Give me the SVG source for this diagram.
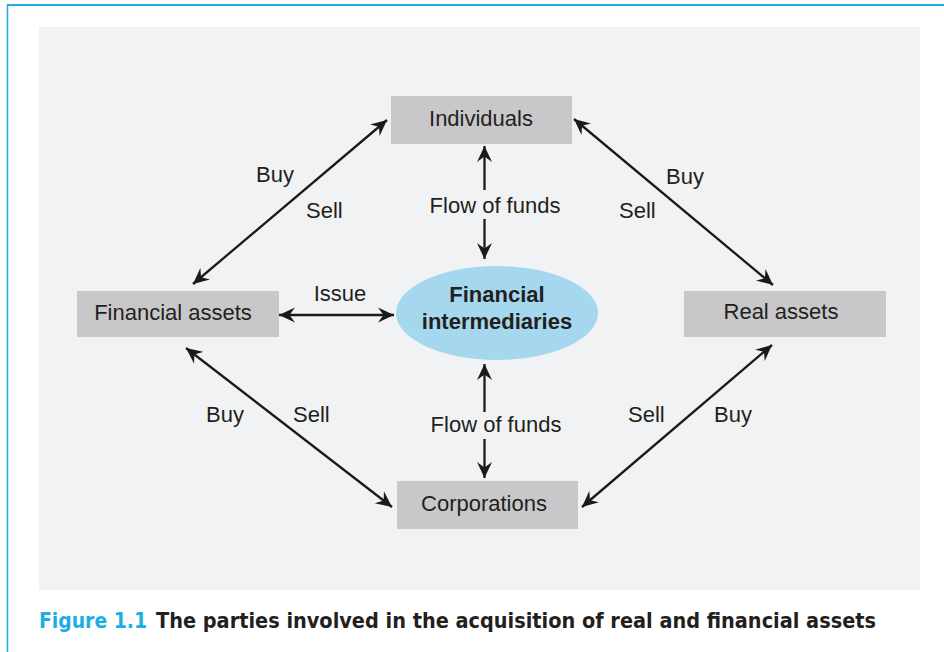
<svg xmlns="http://www.w3.org/2000/svg" width="944" height="652" viewBox="0 0 944 652">
<style>
.box{fill:#c8c8ca}
.lbl{font-family:"Liberation Sans",Arial,sans-serif;font-size:22px;fill:#231f20}
.mid{text-anchor:middle}
.conn line{stroke:#1a1a1a;stroke-width:2.3;marker-end:url(#ah)}
.conn line.two{marker-start:url(#ah)}
.cap{font-family:"DejaVu Sans",sans-serif;font-weight:bold;font-size:22px;font-stretch:condensed}
</style>
<defs>
<marker id="ah" markerUnits="userSpaceOnUse" viewBox="-16 -8 18 16" refX="0" refY="0" markerWidth="18" markerHeight="16" orient="auto-start-reverse">
<path d="M0,0 L-16,-7.5 L-10.5,0 L-16,7.5 Z" fill="#1a1a1a"/>
</marker>
</defs>
<rect width="944" height="652" fill="#ffffff"/>
<line x1="7" y1="5" x2="944" y2="5" stroke="#1aaee3" stroke-width="1.8"/>
<line x1="7.5" y1="4.5" x2="7.5" y2="652" stroke="#1aaee3" stroke-width="1.5"/>
<rect x="39" y="27" width="881" height="563" fill="#f1f2f4"/>

<g class="conn">
<line class="two" x1="193" y1="284" x2="387" y2="120"/>
<line class="two" x1="574" y1="119" x2="773" y2="285"/>
<line class="two" x1="279" y1="315" x2="394" y2="315"/>
<line x1="484.5" y1="190" x2="484.5" y2="146"/>
<line x1="484.5" y1="219" x2="484.5" y2="259"/>
<line x1="484.5" y1="412" x2="484.5" y2="364"/>
<line x1="484.5" y1="439" x2="484.5" y2="478"/>
<line class="two" x1="186" y1="348" x2="392" y2="507"/>
<line class="two" x1="772" y1="345" x2="582" y2="507"/>
</g>

<g id="individuals">
<rect class="box" x="391" y="96" width="181" height="48"/>
<text class="lbl mid" x="481" y="126">Individuals</text>
</g>
<g id="financial-assets">
<rect class="box" x="77" y="291" width="202" height="46"/>
<text class="lbl mid" x="173" y="320">Financial assets</text>
</g>
<g id="financial-intermediaries">
<ellipse cx="497" cy="313" rx="101" ry="47" fill="#a5d7ee"/>
<text class="lbl mid" x="497" y="302" font-weight="bold" font-size="21">Financial</text>
<text class="lbl mid" x="497" y="329" font-weight="bold" font-size="21">intermediaries</text>
</g>
<g id="real-assets">
<rect class="box" x="684" y="291" width="202" height="46"/>
<text class="lbl mid" x="781" y="319">Real assets</text>
</g>
<g id="corporations">
<rect class="box" x="397" y="481" width="181" height="48"/>
<text class="lbl mid" x="484" y="511">Corporations</text>
</g>

<g id="labels">
<text class="lbl" x="256" y="182">Buy</text>
<text class="lbl" x="306" y="218">Sell</text>
<text class="lbl" x="666" y="184">Buy</text>
<text class="lbl" x="619" y="218">Sell</text>
<text class="lbl mid" x="340" y="301">Issue</text>
<text class="lbl mid" x="495" y="213">Flow of funds</text>
<text class="lbl mid" x="496" y="432">Flow of funds</text>
<text class="lbl" x="206" y="422">Buy</text>
<text class="lbl" x="293" y="422">Sell</text>
<text class="lbl" x="628" y="422">Sell</text>
<text class="lbl" x="714" y="422">Buy</text>
</g>

<g id="caption">
<text class="cap" x="39" y="628" fill="#1aaee3" textLength="108" lengthAdjust="spacingAndGlyphs">Figure 1.1</text>
<text class="cap" x="156" y="628" fill="#231f20" textLength="720" lengthAdjust="spacingAndGlyphs">The parties involved in the acquisition of real and financial assets</text>
</g>
</svg>
